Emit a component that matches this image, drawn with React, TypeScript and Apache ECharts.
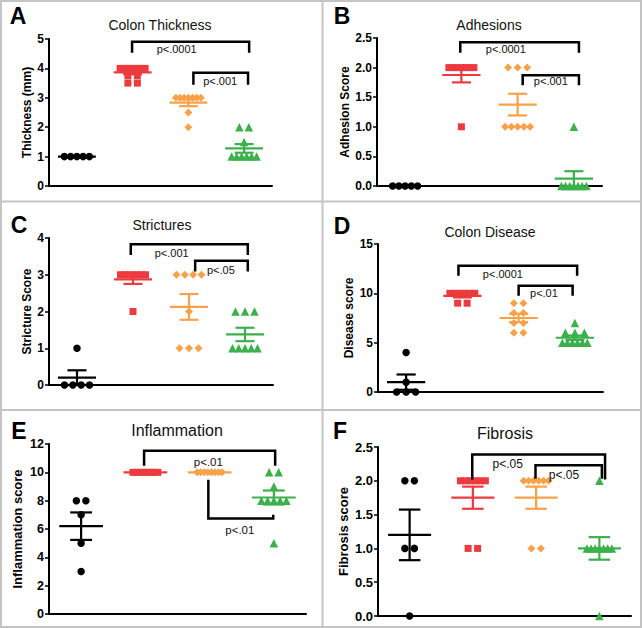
import React, { useEffect, useRef } from "react";
import * as echarts from "echarts";

const FONT = "Arial, 'Liberation Sans', Helvetica, sans-serif";
const COLORS = ["#000000", "#ec3a3f", "#f7a24a", "#3cb04c"];
const SYMBOLS = ["circle", "rect", "diamond", "triangle"];
const SYMBOL_SIZES = [7.5, 7, 8, 8.5];

// Panel A – Colon Thickness
const thicknessTicks = [0, 1, 2, 3, 4, 5];
const thicknessBlack = [1, 1, 1, 1, 1];
const thicknessRed = [4, 4, 4, 4, 4, 4, 4, 3.75, 3.75, 3.5, 3.5];
const thicknessOrange = [3, 3, 3, 3, 3, 3, 3, 2.5, 2];
const thicknessGreen = [2, 2, 1.5, 1, 1, 1, 1, 1, 1];
const thicknessBrackets = [
  [1.49, 3.59, 4.91, 4.53, 4.53, 2.29, 4.66],
  [2.59, 3.57, 3.85, 3.44, 3.44, 3.07, 3.57],
];
const thicknessP = ["p<.0001", "p<.001"];

// Panel B – Adhesions
const adhesionTicks = [0, 0.5, 1, 1.5, 2, 2.5];
const adhesionBlack = [0, 0, 0, 0, 0];
const adhesionRed = [2, 2, 2, 2, 2, 2, 2, 1];
const adhesionOrange = [2, 2, 2, 1, 1, 1, 1, 1];
const adhesionGreen = [1, 0, 0, 0, 0, 0, 0, 0];
const adhesionBrackets = [
  [1.48, 3.59, 2.43, 2.25, 2.25, 2.29, 2.31],
  [2.59, 3.59, 1.87, 1.7, 1.7, 3.09, 1.77],
];
const adhesionP = ["p<.0001", "p<.001"];

// Panel C – Strictures
const strictureTicks = [0, 1, 2, 3, 4];
const strictureBlack = [1, 0, 0, 0, 0];
const strictureRed = [3, 3, 3, 3, 3, 3, 3, 2];
const strictureOrange = [3, 3, 3, 3, 2, 1, 1, 1];
const strictureGreen = [2, 2, 2, 1, 1, 1, 1, 1];
const strictureBrackets = [
  [1.46, 3.55, 3.83, 3.54, 3.54, 2.19, 3.59],
  [2.61, 3.55, 3.38, 3.09, 3.09, 3.07, 3.13],
];
const strictureP = ["p<.001", "p<.05"];

// Panel D – Colon Disease
const diseaseTicks = [0, 5, 10, 15];
const diseaseBlack = [4, 1, 0, 0, 0];
const diseaseRed = [10, 10, 10, 10, 10, 10, 9, 9];
const diseaseOrange = [9, 9, 8, 8, 7, 7, 6, 6];
const diseaseGreen = [7, 6, 6, 6, 5, 5, 5, 5, 5, 5];
const diseaseBrackets = [
  [1.43, 3.54, 12.8, 11.78, 11.78, 2.22, 11.95],
  [2.5, 3.46, 10.77, 9.76, 9.76, 2.95, 10.03],
];
const diseaseP = ["p<.0001", "p<.01"];

// Panel E – Inflammation
const inflammationTicks = [0, 2, 4, 6, 8, 10, 12];
const inflammationBlack = [8, 8, 7, 5, 3];
const inflammationRed = [10, 10, 10, 10, 10, 10, 10, 10];
const inflammationOrange = [10, 10, 10, 10, 10, 10, 10, 10];
const inflammationGreen = [10, 10, 9, 8, 8, 8, 8, 8, 5];
const inflammationBrackets = [
  [1.48, 3.52, 11.53, 10.47, 10.47, 2.48, 10.7],
  [2.48, 3.49, 6.74, 9.48, 7.0, 2.97, 5.94],
];
const inflammationP = ["p<.01", "p<.01"];

// Panel F – Fibrosis
const fibrosisTicks = [0, 0.5, 1, 1.5, 2, 2.5];
const fibrosisBlack = [2, 2, 1, 1, 0];
const fibrosisRed = [2, 2, 2, 2, 2, 2, 1, 1];
const fibrosisOrange = [2, 2, 2, 2, 2, 2, 1, 1];
const fibrosisGreen = [2, 1, 1, 1, 1, 1, 1, 1, 0];
const fibrosisBrackets = [
  [1.49, 3.59, 2.39, 2.02, 2.02, 2.05, 2.25],
  [2.49, 3.54, 2.23, 2.03, 2.03, 2.94, 2.08],
];
const fibrosisP = ["p<.05", "p<.05"];

const panels = [
  {
    letter: "A", title: "Colon Thickness", yName: "Thickness (mm)",
    groups: [thicknessBlack, thicknessRed, thicknessOrange, thicknessGreen],
    ticks: thicknessTicks, decimals: 0, brackets: thicknessBrackets, pLabels: thicknessP,
    grid: { left: 49, top: 39, width: 223, height: 147 },
    titleXY: [160, 25], letterXY: [18, 16], nameGap: 15,
    tickFont: 12, nameFont: 12, titleFont: 14, pFont: 11,
  },
  {
    letter: "B", title: "Adhesions", yName: "Adhesion Score",
    groups: [adhesionBlack, adhesionRed, adhesionOrange, adhesionGreen],
    ticks: adhesionTicks, decimals: 1, brackets: adhesionBrackets, pLabels: adhesionP,
    grid: { left: 377, top: 38, width: 225, height: 148 },
    titleXY: [489, 25], letterXY: [342, 16], nameGap: 22,
    tickFont: 12, nameFont: 12, titleFont: 14, pFont: 11,
  },
  {
    letter: "C", title: "Strictures", yName: "Stricture Score",
    groups: [strictureBlack, strictureRed, strictureOrange, strictureGreen],
    ticks: strictureTicks, decimals: 0, brackets: strictureBrackets, pLabels: strictureP,
    grid: { left: 49, top: 238, width: 224, height: 147 },
    titleXY: [162, 225], letterXY: [19, 225], nameGap: 15,
    tickFont: 12, nameFont: 12, titleFont: 14, pFont: 11,
  },
  {
    letter: "D", title: "Colon Disease", yName: "Disease score",
    groups: [diseaseBlack, diseaseRed, diseaseOrange, diseaseGreen],
    ticks: diseaseTicks, decimals: 0, brackets: diseaseBrackets, pLabels: diseaseP,
    grid: { left: 378, top: 244, width: 225, height: 148 },
    titleXY: [490, 232], letterXY: [342, 226], nameGap: 23,
    tickFont: 12, nameFont: 12, titleFont: 14, pFont: 11,
  },
  {
    letter: "E", title: "Inflammation", yName: "Inflammation score",
    groups: [inflammationBlack, inflammationRed, inflammationOrange, inflammationGreen],
    ticks: inflammationTicks, decimals: 0, brackets: inflammationBrackets, pLabels: inflammationP,
    grid: { left: 49, top: 444, width: 257, height: 170 },
    titleXY: [177, 430], letterXY: [19, 431], nameGap: 25,
    tickFont: 12.5, nameFont: 13, titleFont: 16, pFont: 11.5,
  },
  {
    letter: "F", title: "Fibrosis", yName: "Fibrosis score",
    groups: [fibrosisBlack, fibrosisRed, fibrosisOrange, fibrosisGreen],
    ticks: fibrosisTicks, decimals: 1, brackets: fibrosisBrackets, pLabels: fibrosisP,
    grid: { left: 378, top: 447, width: 253, height: 169 },
    titleXY: [505, 433], letterXY: [340, 431], nameGap: 28,
    tickFont: 13, nameFont: 13, titleFont: 16, pFont: 12,
  },
];

function stats(v: number[]) {
  const n = v.length;
  const m = v.reduce((a, b) => a + b, 0) / n;
  const sd = n > 1 ? Math.sqrt(v.reduce((a, b) => a + (b - m) * (b - m), 0) / (n - 1)) : 0;
  return [m, sd / Math.sqrt(n)];
}

// column-scatter layout: points sharing a value are spread side by side
function columnScatter(values: number[], center: number, unitPx: number) {
  const counts = new Map<number, number>();
  values.forEach((v) => counts.set(v, (counts.get(v) || 0) + 1));
  const seen = new Map<number, number>();
  return values.map((v) => {
    const m = counts.get(v) || 1;
    const k = seen.get(v) || 0;
    seen.set(v, k + 1);
    const sp = m > 1 ? Math.min(9.5, 25 / (m - 1)) : 0;
    return [center + ((k - (m - 1) / 2) * sp) / unitPx, v];
  });
}

function buildOption() {
  const grids: any[] = [];
  const xAxes: any[] = [];
  const yAxes: any[] = [];
  const series: any[] = [];
  const graphics: any[] = [];

  const frame = { stroke: "#c4c4c4", lineWidth: 2 };
  graphics.push({ type: "rect", shape: { x: 1, y: 1, width: 640, height: 626 }, style: { ...frame, fill: null }, silent: true });
  graphics.push({ type: "line", shape: { x1: 322.5, y1: 0, x2: 322.5, y2: 628 }, style: frame, silent: true });
  graphics.push({ type: "line", shape: { x1: 0, y1: 201.5, x2: 642, y2: 201.5 }, style: frame, silent: true });
  graphics.push({ type: "line", shape: { x1: 0, y1: 410, x2: 642, y2: 410 }, style: frame, silent: true });

  panels.forEach((p, i) => {
    grids.push({ ...p.grid, containLabel: false });
    const unitPx = p.grid.width / 4;
    xAxes.push({
      gridIndex: i, type: "value", min: 0, max: 4,
      axisLine: { show: true, onZero: false, lineStyle: { color: "#000", width: 2 } },
      axisTick: { show: false }, axisLabel: { show: false }, splitLine: { show: false },
    });
    const ticks = p.ticks;
    yAxes.push({
      gridIndex: i, type: "value", min: ticks[0], max: ticks[ticks.length - 1],
      interval: ticks[1] - ticks[0],
      name: p.yName, nameLocation: "middle", nameGap: p.nameGap,
      nameTextStyle: { fontFamily: FONT, fontWeight: "bold", fontSize: p.nameFont, color: "#000" },
      axisLine: { show: true, lineStyle: { color: "#000", width: 2 } },
      axisTick: { show: true, inside: false, length: 4, lineStyle: { color: "#000", width: 1.5 } },
      axisLabel: {
        fontFamily: FONT, fontWeight: "bold", fontSize: p.tickFont, color: "#000", margin: 5,
        formatter: (v: number) => v.toFixed(p.decimals),
      },
      splitLine: { show: false },
    });

    p.groups.forEach((vals, g) => {
      series.push({
        type: "scatter", xAxisIndex: i, yAxisIndex: i, clip: false, z: 2,
        symbol: SYMBOLS[g], symbolSize: SYMBOL_SIZES[g],
        itemStyle: { color: COLORS[g], opacity: 1 },
        data: columnScatter(vals, g + 0.5, unitPx),
      });
    });

    const meanData = p.groups.map((vals, g) => {
      const [m, s] = stats(vals);
      return [g + 0.5, m, s, g];
    });
    series.push({
      type: "custom", xAxisIndex: i, yAxisIndex: i, clip: false, z: 3,
      encode: { x: 0, y: 1 },
      data: meanData,
      renderItem: (params: any, api: any) => {
        const x = api.value(0), m = api.value(1), s = api.value(2), g = api.value(3);
        const color = COLORS[g];
        const c = api.coord([x, m]);
        const hi = api.coord([x, m + s]);
        const lo = api.coord([x, m - s]);
        const wHalf = api.coord([x + 0.34, m])[0] - c[0];
        const cHalf = api.coord([x + 0.17, m])[0] - c[0];
        const st = { stroke: color, lineWidth: 2.2 };
        const children: any[] = [
          { type: "line", shape: { x1: c[0] - wHalf, y1: c[1], x2: c[0] + wHalf, y2: c[1] }, style: st },
        ];
        if (s > 0) {
          children.push({ type: "line", shape: { x1: c[0], y1: hi[1], x2: c[0], y2: lo[1] }, style: st });
          children.push({ type: "line", shape: { x1: c[0] - cHalf, y1: hi[1], x2: c[0] + cHalf, y2: hi[1] }, style: st });
          children.push({ type: "line", shape: { x1: c[0] - cHalf, y1: lo[1], x2: c[0] + cHalf, y2: lo[1] }, style: st });
        }
        return { type: "group", children };
      },
    });

    const labels = p.pLabels;
    series.push({
      type: "custom", xAxisIndex: i, yAxisIndex: i, clip: false, z: 4,
      encode: { x: [0, 1], y: [2, 3] },
      data: p.brackets,
      renderItem: (params: any, api: any) => {
        const b = p.brackets[params.dataIndex];
        const p1 = api.coord([b[0], b[3]]);
        const p2 = api.coord([b[0], b[2]]);
        const p3 = api.coord([b[1], b[2]]);
        const p4 = api.coord([b[1], b[4]]);
        const t = api.coord([b[5], b[6]]);
        return {
          type: "group",
          children: [
            { type: "polyline", shape: { points: [p1, p2, p3, p4] }, style: { stroke: "#000", lineWidth: 2.5, fill: null } },
            {
              type: "text", x: t[0], y: t[1],
              style: {
                text: labels[params.dataIndex], font: `${p.pFont}px ${FONT}`,
                fill: "#111", textFill: "#111",
                align: "center", textAlign: "center",
                verticalAlign: "middle", textVerticalAlign: "middle",
              },
            },
          ],
        };
      },
    });

    graphics.push({
      type: "text", x: p.titleXY[0], y: p.titleXY[1], silent: true,
      style: {
        text: p.title, font: `${p.titleFont}px ${FONT}`, fill: "#111", textFill: "#111",
        align: "center", textAlign: "center", verticalAlign: "middle", textVerticalAlign: "middle",
      },
    });
    graphics.push({
      type: "text", x: p.letterXY[0], y: p.letterXY[1], silent: true,
      style: {
        text: p.letter, font: `bold 23px ${FONT}`, fill: "#000", textFill: "#000",
        align: "center", textAlign: "center", verticalAlign: "middle", textVerticalAlign: "middle",
      },
    });
  });

  return {
    animation: false,
    backgroundColor: "#ffffff",
    grid: grids,
    xAxis: xAxes,
    yAxis: yAxes,
    series,
    graphic: { elements: graphics },
  };
}

export default function App() {
  const ref = useRef<HTMLDivElement>(null);
  useEffect(() => {
    if (!ref.current) return;
    const chart = echarts.init(ref.current, undefined, { renderer: "svg" });
    chart.setOption(buildOption() as any);
    return () => chart.dispose();
  }, []);
  return (
    <div
      ref={ref}
      style={{ position: "fixed", left: 0, top: 0, width: 642, height: 628, background: "#fff" }}
    />
  );
}
